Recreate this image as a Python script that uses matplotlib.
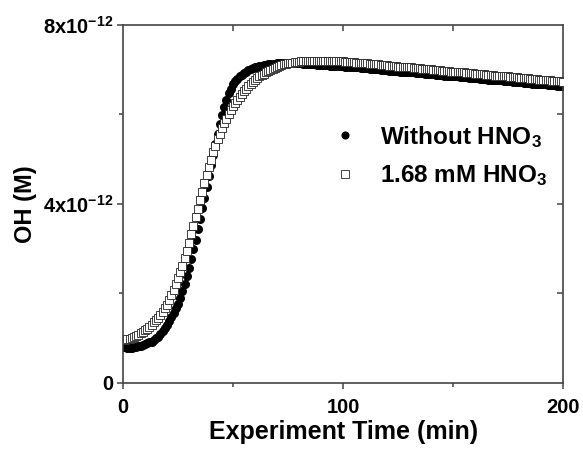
import numpy as np
import matplotlib
matplotlib.use("Agg")
import matplotlib.pyplot as plt

plt.rcParams['font.family'] = ['Liberation Sans', 'DejaVu Sans']
plt.rcParams['font.weight'] = 'bold'
plt.rcParams['axes.labelweight'] = 'bold'
plt.rcParams['mathtext.fontset'] = 'custom'
plt.rcParams['mathtext.rm'] = 'Liberation Sans:bold'
plt.rcParams['mathtext.it'] = 'Liberation Sans:bold'
plt.rcParams['mathtext.bf'] = 'Liberation Sans:bold'
plt.rcParams['mathtext.default'] = 'bf'

# time in minutes, one point per minute
time_min = np.arange(0, 201)

# OH concentration (units of 1e-12 M)
oh_without = [
    0.80, 0.79, 0.78, 0.78, 0.78, 0.79, 0.80, 0.81, 0.83, 0.84,
    0.86, 0.88, 0.90, 0.92, 0.95, 0.99, 1.03, 1.09, 1.15, 1.22,
    1.30, 1.38, 1.47, 1.56, 1.66, 1.77, 1.90, 2.05, 2.20, 2.38,
    2.56, 2.76, 2.98, 3.20, 3.43, 3.66, 3.90, 4.14, 4.38, 4.62,
    4.86, 5.10, 5.34, 5.57, 5.79, 5.99, 6.17, 6.33, 6.47, 6.58,
    6.67, 6.74, 6.80, 6.85, 6.89, 6.93, 6.96, 6.99, 7.01, 7.03,
    7.05, 7.07, 7.08, 7.09, 7.10, 7.11, 7.12, 7.12, 7.13, 7.13,
    7.14, 7.14, 7.14, 7.15, 7.15, 7.15, 7.15, 7.15, 7.14, 7.14,
    7.14, 7.14, 7.13, 7.13, 7.13, 7.12, 7.12, 7.12, 7.11, 7.11,
    7.11, 7.10, 7.10, 7.10, 7.09, 7.09, 7.09, 7.08, 7.08, 7.08,
    7.08, 7.07, 7.07, 7.06, 7.06, 7.05, 7.05, 7.05, 7.04, 7.04,
    7.03, 7.03, 7.02, 7.02, 7.01, 7.01, 7.01, 7.00, 7.00, 6.99,
    6.99, 6.98, 6.98, 6.97, 6.97, 6.97, 6.96, 6.96, 6.95, 6.95,
    6.94, 6.94, 6.94, 6.93, 6.93, 6.92, 6.92, 6.91, 6.91, 6.90,
    6.90, 6.90, 6.89, 6.89, 6.88, 6.88, 6.87, 6.87, 6.86, 6.86,
    6.85, 6.85, 6.85, 6.84, 6.84, 6.83, 6.83, 6.82, 6.82, 6.81,
    6.81, 6.81, 6.80, 6.80, 6.79, 6.79, 6.78, 6.78, 6.77, 6.77,
    6.76, 6.76, 6.76, 6.75, 6.75, 6.74, 6.74, 6.73, 6.73, 6.72,
    6.72, 6.72, 6.71, 6.71, 6.70, 6.70, 6.69, 6.69, 6.68, 6.68,
    6.67, 6.67, 6.67, 6.66, 6.66, 6.65, 6.65, 6.64, 6.64, 6.63,
    6.63,
]

oh_hno3 = [
    0.95, 0.96, 0.97, 0.98, 1.00, 1.02, 1.04, 1.07, 1.10, 1.13,
    1.17, 1.21, 1.25, 1.30, 1.35, 1.40, 1.45, 1.51, 1.58, 1.66,
    1.74, 1.84, 1.95, 2.07, 2.20, 2.33, 2.47, 2.62, 2.78, 2.95,
    3.13, 3.32, 3.51, 3.70, 3.89, 4.08, 4.27, 4.46, 4.64, 4.82,
    4.99, 5.15, 5.30, 5.44, 5.57, 5.69, 5.80, 5.90, 6.00, 6.09,
    6.18, 6.26, 6.33, 6.40, 6.46, 6.52, 6.58, 6.63, 6.68, 6.73,
    6.77, 6.81, 6.85, 6.88, 6.91, 6.94, 6.97, 7.00, 7.02, 7.04,
    7.06, 7.08, 7.10, 7.12, 7.13, 7.14, 7.15, 7.16, 7.17, 7.18,
    7.18, 7.19, 7.19, 7.19, 7.20, 7.20, 7.20, 7.20, 7.20, 7.20,
    7.20, 7.20, 7.20, 7.20, 7.20, 7.20, 7.19, 7.19, 7.19, 7.19,
    7.19, 7.18, 7.18, 7.18, 7.17, 7.17, 7.16, 7.16, 7.15, 7.15,
    7.14, 7.14, 7.13, 7.13, 7.13, 7.12, 7.12, 7.11, 7.11, 7.10,
    7.10, 7.09, 7.09, 7.08, 7.08, 7.07, 7.07, 7.07, 7.06, 7.06,
    7.05, 7.05, 7.04, 7.04, 7.03, 7.03, 7.02, 7.02, 7.02, 7.01,
    7.01, 7.00, 7.00, 6.99, 6.99, 6.98, 6.98, 6.97, 6.97, 6.96,
    6.96, 6.96, 6.95, 6.95, 6.94, 6.94, 6.93, 6.93, 6.92, 6.92,
    6.91, 6.91, 6.91, 6.90, 6.90, 6.89, 6.89, 6.88, 6.88, 6.87,
    6.87, 6.86, 6.86, 6.86, 6.85, 6.85, 6.84, 6.84, 6.83, 6.83,
    6.82, 6.82, 6.81, 6.81, 6.81, 6.80, 6.80, 6.79, 6.79, 6.78,
    6.78, 6.77, 6.77, 6.76, 6.76, 6.75, 6.75, 6.75, 6.74, 6.74,
    6.73,
]

y_ticks = [0, 4e-12, 8e-12]
y_ticklabels = ['0', r'4x10$^{-12}$', r'8x10$^{-12}$']
x_ticks = [0, 100, 200]

fig = plt.figure(figsize=(5.83, 4.55), dpi=100)
ax = fig.add_axes([0.211, 0.159, 0.755, 0.786])

ax.plot(time_min, np.array(oh_without) * 1e-12, 'o', color='black', ms=6.5,
        mew=0, label=r'Without HNO$_3$', zorder=2)
ax.plot(time_min, np.array(oh_hno3) * 1e-12, 's', mfc='white', mec='#222222',
        ms=6.2, mew=0.6, label=r'1.68 mM HNO$_3$', zorder=3)

ax.set_xlim(0, 200)
ax.set_ylim(0, 8e-12)
ax.set_xticks(x_ticks)
ax.set_xticks([50, 150], minor=True)
ax.set_yticks(y_ticks)
ax.set_yticklabels(y_ticklabels)
ax.set_yticks([2e-12, 6e-12], minor=True)

for s in ax.spines.values():
    s.set_color('#444444')
    s.set_linewidth(1.2)

ax.tick_params(which='major', direction='out', length=4, width=1.1,
               color='#444444', labelsize=14.5)
ax.tick_params(which='minor', direction='out', length=3, width=1.1,
               color='#444444')
ax.tick_params(axis='x', which='major', pad=7)
ax.tick_params(axis='y', which='major', pad=3)

top = ax.secondary_xaxis('top')
top.set_xticks([50, 100, 150])
top.tick_params(direction='in', length=4, width=1.1, color='#444444',
                labeltop=False)
top.spines['top'].set_visible(False)
right = ax.secondary_yaxis('right')
right.set_yticks([2e-12, 4e-12, 6e-12])
right.tick_params(direction='in', length=4, width=1.1, color='#444444',
                  labelright=False)
right.spines['right'].set_visible(False)

ax.set_xlabel('Experiment Time (min)', fontsize=18, labelpad=2)
ax.set_ylabel('OH (M)', fontsize=17, labelpad=4)

leg = ax.legend(loc='upper left', bbox_to_anchor=(0.43, 0.785), frameon=False,
                fontsize=17.5, handlelength=0.9, handletextpad=1.0,
                labelspacing=0.55, markerscale=0.9)

fig.savefig('out.png', dpi=100)
